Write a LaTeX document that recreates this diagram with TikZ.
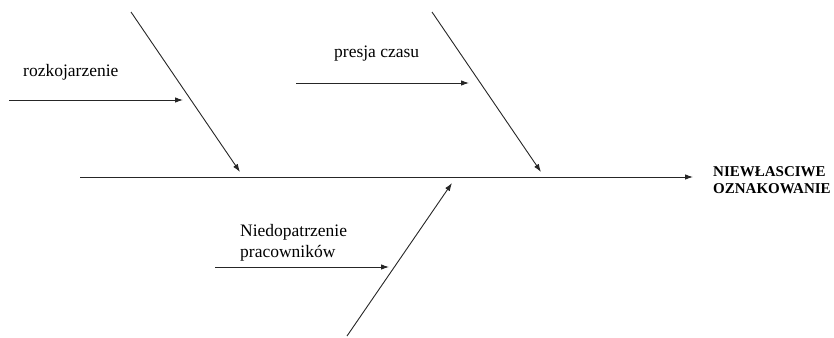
\documentclass[tikz,border=0pt]{standalone}
\usepackage{fontspec}
\setmainfont{Liberation Serif}
\usetikzlibrary{arrows.meta}
\begin{document}
\begin{tikzpicture}[x=1pt,y=-1pt,
  bone/.style={draw=black!85,line width=0.9pt,-{Latex[length=8pt,width=5.5pt]}},
  cause/.style={anchor=base west,inner sep=0pt,font=\fontsize{17.5}{20}\selectfont},
  effect/.style={anchor=base west,inner sep=0pt,font=\fontsize{15}{17}\selectfont\bfseries}]
\useasboundingbox (0,0) rectangle (834,337);

% spine and effect
\coordinate (spineS) at (80,177);
\coordinate (spineE) at (693,177);
\draw[bone] (spineS) -- (spineE);
\node[effect] (eff1) at (713,176) {NIEWŁASCIWE};
\node[effect] (eff2) at (713,193) {OZNAKOWANIE};

% upper left bone
\coordinate (b1s) at (131,12);
\coordinate (b1e) at (240,172);
\draw[bone] (b1s) -- (b1e);
\coordinate (c1s) at (9,100);
\coordinate (c1e) at (183,100);
\draw[bone] (c1s) -- (c1e);
\node[cause] (t1) at (23,76) {rozkojarzenie};

% upper right bone
\coordinate (b2s) at (432,12);
\coordinate (b2e) at (541,172);
\draw[bone] (b2s) -- (b2e);
\coordinate (c2s) at (296,83);
\coordinate (c2e) at (469,83);
\draw[bone] (c2s) -- (c2e);
\node[cause] (t2) at (334,57) {presja czasu};

% lower bone
\coordinate (b3s) at (347,336);
\coordinate (b3e) at (452,183);
\draw[bone] (b3s) -- (b3e);
\coordinate (c3s) at (215,267);
\coordinate (c3e) at (389,267);
\draw[bone] (c3s) -- (c3e);
\node[cause] (t3a) at (240,236) {Niedopatrzenie};
\node[cause] (t3b) at (240,257) {pracowników};
\end{tikzpicture}
\end{document}
